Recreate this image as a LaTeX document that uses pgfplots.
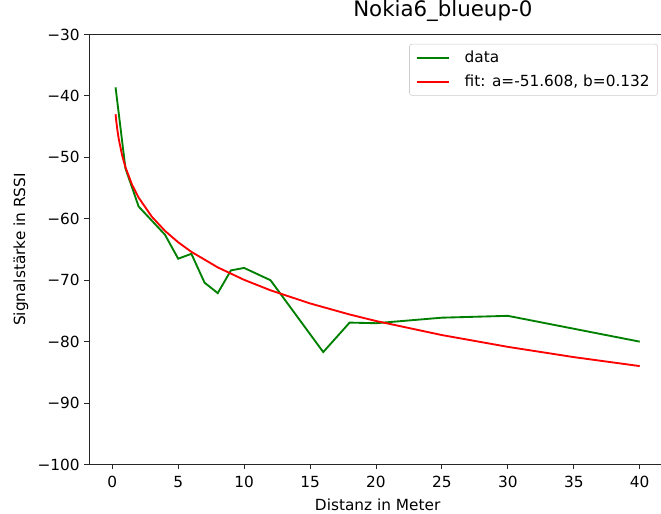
\documentclass[border=0pt]{standalone}
\usepackage{fontspec}
\setmainfont{DejaVu Sans}
\usepackage{pgfplots}
\pgfplotsset{compat=1.18}
\definecolor{mplgreen}{HTML}{008000}
\definecolor{mplred}{HTML}{FF0000}

\newcommand{\tickfont}{\fontsize{11.5}{13.8}\selectfont}

\begin{document}
\begin{tikzpicture}
\begin{axis}[
  name=ax,
  scale only axis,
  width=432.5pt, height=322.5pt,
  xmin=-1.74, xmax=41.99,
  ymin=-100, ymax=-30,
  xtick={0,5,10,15,20,25,30,35,40},
  ytick={-100,-90,-80,-70,-60,-50,-40,-30},
  yticklabels={−100,−90,−80,−70,−60,−50,−40,−30},
  tick pos=left,
  tick align=outside,
  major tick length=3.7pt,
  tick style={black!85, line width=0.7pt},
  axis line style={black!85, line width=0.7pt},
  /pgf/number format/assume math mode=true,
  tick label style={font=\tickfont},
  xticklabel style={yshift=-1.5pt},
  xlabel={Distanz in Meter},
  ylabel={Signalstärke in RSSI},
  label style={font=\tickfont},
  xlabel style={yshift=-1.5pt},
  title={Nokia6\_blueup-0},
  title style={font=\fontsize{16}{18}\selectfont, at={(0.613,1)}, anchor=south, yshift=0pt},
  legend style={at={(1,1)}, anchor=north east, xshift=-6pt, yshift=-7pt,
    draw=black!20, rounded corners=2pt, fill=white, font=\tickfont,
    row sep=4pt, inner xsep=4pt, inner ysep=3pt},
  legend cell align=left,
  legend image code/.code={\draw[#1] (0pt,0pt) -- (24pt,0pt); \path (-1pt,0pt) (33pt,0pt);},
]
\addplot[mplgreen, line width=1.4pt] coordinates {
  (0.25,-38.6) (1,-51.8) (2,-58.0) (4,-62.6) (5,-66.5) (6,-65.7)
  (7,-70.4) (8,-72.1) (9,-68.4) (10,-68.0) (12,-70.0) (16,-81.7)
  (18,-76.9) (20,-77.0) (25,-76.1) (30,-75.8) (40,-80.0)
};
\addlegendentry{data}
\addplot[mplred, line width=1.4pt] coordinates {
  (0.25,-42.98) (0.3,-44.03) (0.4,-45.73) (0.5,-47.10) (0.75,-49.68)
  (1,-51.61) (1.5,-54.45) (2,-56.55) (3,-59.66) (4,-61.97) (5,-63.82)
  (6,-65.38) (8,-67.91) (10,-69.94) (12,-71.64) (15,-73.78) (18,-75.58)
  (20,-76.64) (25,-78.93) (30,-80.85) (35,-82.52) (40,-83.98)
};
\addlegendentry{fit: a=-51.608, b=0.132}
\end{axis}
\pgfresetboundingbox
\path ([shift={(-67pt,-36.4pt)}]ax.south west) rectangle ([shift={(428.8pt,25.9pt)}]ax.north west);
\end{tikzpicture}
\end{document}
